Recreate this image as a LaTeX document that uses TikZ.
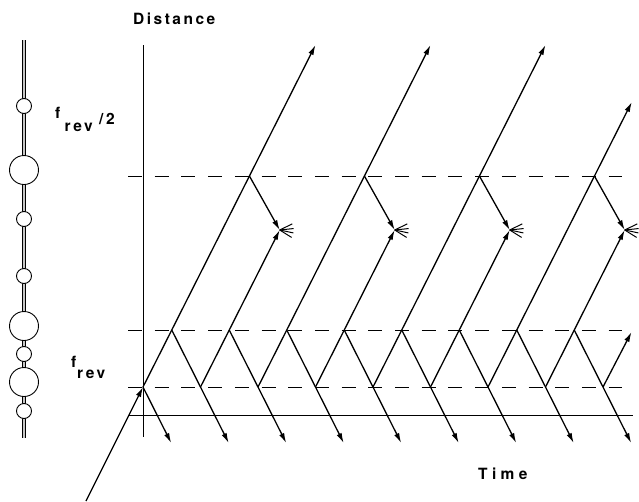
\documentclass[tikz,border=0pt]{standalone}
\usepackage{fontspec}
\usetikzlibrary{arrows.meta}
\newfontfamily\labA[LetterSpace=16]{TeX Gyre Heros}
\newfontfamily\labB[LetterSpace=28]{TeX Gyre Heros}
\begin{document}
\begin{tikzpicture}[x=1pt,y=-1pt,
  wave/.style={line width=1.3pt},
  warrow/.style={wave,-{Latex[length=10pt,width=5.5pt]}},
  dashline/.style={line width=0.9pt,dash pattern=on 14pt off 12.7pt},
  axisline/.style={line width=1pt},
  lab/.style={inner sep=0pt,anchor=base west,font=\labA\bfseries\fontsize{15.5}{17}\selectfont},
  bead/.style={draw,fill=white,line width=0.9pt},
  strand/.style={line width=0.8pt}]
\useasboundingbox (0,0) rectangle (639,501);
% coordinates
\foreach \k in {0,...,8} \coordinate (v\k) at ({143+57.5*\k},387);
\foreach \k in {0,...,7} \coordinate (p\k) at ({171.75+57.5*\k},330);
\foreach \k in {0,...,8} \coordinate (d\k) at ({171.2+57.5*\k},443);
\coordinate (t0) at (315.5,45);
\coordinate (t2) at (430.5,45);
\coordinate (t4) at (545.5,45);
\coordinate (t6) at (631.8,102);
\foreach \k in {0,2,4,6} \coordinate (u\k) at ({249.4+57.5*\k},176);
\foreach \k in {1,3,5,7} \coordinate (X\k) at ({279.7+57.5*(\k-1)},230);
\coordinate (in) at (86,501);
\coordinate (last) at (631.5,332);
% axes
\coordinate (axT) at (143,45); \coordinate (axB) at (143,437);
\draw[axisline] (axT) -- (axB);
\coordinate (hL) at (128,415); \coordinate (hR) at (633,415);
\draw[axisline] (hL) -- (hR);
% dashed levels
\foreach \y/\n in {176/a,330/b,387/c} {
  \coordinate (dl\n) at (128,\y); \coordinate (dr\n) at (622,\y);
  \draw[dashline] (dl\n) -- (dr\n);
}
% incoming
\draw[warrow] (in) -- (v0);
% down lines
\draw[warrow] (v0) -- (d0);
\foreach \k [evaluate=\k as \kk using int(\k+1)] in {0,...,7} \draw[warrow] (p\k) -- (d\kk);
% up lines
\foreach \k in {0,2,4,6} \draw[warrow] (v\k) -- (t\k);
\foreach \k in {1,3,5,7} \draw[warrow] (v\k) -- (X\k);
\draw[warrow] (v8) -- (last);
% reflected down to X
\foreach \k [evaluate=\k as \kk using int(\k+1)] in {0,2,4,6} \draw[warrow] (u\k) -- (X\kk);
% fans
\foreach \k in {1,3,5,7} \foreach \a in {-26,-6,12,32} \draw[line width=1pt] (X\k) -- ++(\a:14);
% bead string
\coordinate (sLT) at (22.6,40); \coordinate (sLB) at (22.6,438);
\coordinate (sRT) at (25.4,40); \coordinate (sRB) at (25.4,438);
\fill[gray!45] (sLT) rectangle (sRB);
\draw[strand] (sLT) -- (sLB);
\draw[strand] (sRT) -- (sRB);
\foreach \y/\rad [count=\i] in {106/7.5,170/14.5,219/7.5,276/7.5,326/14.5,354/7.5,382/14.5,411/7.5}
  \node[bead,circle,minimum size={2*\rad pt},inner sep=0pt] (b\i) at (24,\y) {};
% labels
\node[lab] (dist) at (133,24) {Distance};
\node[lab,font=\labB\bfseries\fontsize{15.5}{17}\selectfont] (time) at (478,479) {Time};
\node[lab] (f1) at (55,118) {f};
\node[lab] (r1) at (64.5,131) {rev};
\node[lab] (s1) at (99,124) {/\,2};
\node[lab] (f2) at (71,367) {f};
\node[lab] (r2) at (77,378) {rev};
\end{tikzpicture}
\end{document}
